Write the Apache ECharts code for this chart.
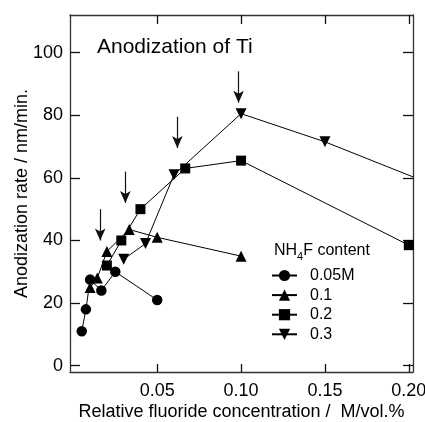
<!DOCTYPE html>
<html>
<head>
<meta charset="utf-8">
<script src="https://cdn.jsdelivr.net/npm/echarts@6/dist/echarts.min.js"></script>
<style>html,body{margin:0;padding:0;background:#fff;}#c{width:425px;height:422px;}</style>
</head>
<body>
<div id="c"></div>
<script>
// ---- data ----
var seriesNames = ['0.05M', '0.1', '0.2', '0.3'];
var x005 = [0.005, 0.0075, 0.01, 0.0167, 0.025, 0.05];
var y005 = [11, 18, 27.5, 24, 30, 21];
var x01 = [0.01, 0.0143, 0.02, 0.0333, 0.05, 0.1];
var y01 = [25, 28, 36.5, 43.5, 41, 35];
var x02 = [0.02, 0.0286, 0.04, 0.0667, 0.1, 0.2];
var y02 = [32, 40, 50, 63, 65.5, 38.5];
var x03 = [0.03, 0.043, 0.06, 0.1, 0.15, 0.3];
var y03 = [34, 39, 61, 80.5, 71.5, 39.5];
var xTicks = [0.05, 0.1, 0.15, 0.2];
var xTickLabels = ['0.05', '0.10', '0.15', '0.20'];
var yTicks = [0, 20, 40, 60, 80, 100];
var arrowX = [0.016, 0.031, 0.062, 0.0985];
var arrowTop = [50, 62, 79.5, 94];
var arrowBottom = [40, 52, 69.5, 84];

var FONT = '"Liberation Sans", Arial, Helvetica, sans-serif';
function pairs(xs, ys) { return xs.map(function (x, i) { return [x, ys[i]]; }); }

var axisLineStyle = { color: '#333', width: 1.3 };
var tickStyle = { color: '#111', width: 1.3 };

var chart = echarts.init(document.getElementById('c'), null, { renderer: 'canvas' });
var symbols = ['circle', 'triangle', 'rect', 'triangle'];
var rot = [0, 0, 0, 180];
var sizes = [10.5, 11, 10, 11];
var datasets = [pairs(x005, y005), pairs(x01, y01), pairs(x02, y02), pairs(x03, y03)];

var series = datasets.map(function (d, i) {
  return {
    name: seriesNames[i],
    type: 'line',
    data: d,
    symbol: symbols[i],
    symbolRotate: rot[i],
    symbolSize: sizes[i],
    showAllSymbol: true,
    clip: true,
    lineStyle: { color: '#000', width: 1 },
    itemStyle: { color: '#000' },
    z: 3
  };
});

series.push({
  name: 'arrows',
  type: 'line',
  data: [],
  markLine: {
    silent: true,
    symbol: ['none', 'arrow'],
    symbolSize: [8, 12],
    label: { show: false },
    lineStyle: { color: '#111', width: 1.2, type: 'solid' },
    data: arrowX.map(function (x, i) {
      return [{ coord: [x, arrowTop[i]] }, { coord: [x, arrowBottom[i]] }];
    })
  }
});

var option = {
  animation: false,
  backgroundColor: '#fff',
  textStyle: { fontFamily: FONT },
  grid: { left: 70, right: 12, top: 15, bottom: 50, containLabel: false, outerBoundsMode: 'none' },
  legend: {
    data: seriesNames,
    orient: 'vertical',
    left: 271,
    top: 267.5,
    itemWidth: 25,
    itemHeight: 14,
    itemGap: 3.6,
    padding: 0,
    textStyle: { fontFamily: FONT, fontSize: 16, color: '#000', padding: [0, 0, 0, 8] }
  },
  graphic: [
    {
      type: 'text', left: 97, top: 37,
      style: { text: 'Anodization of Ti', font: '21px ' + FONT, fill: '#000' }
    },
    {
      type: 'text', left: 274, top: 243,
      style: {
        text: '{a|NH}{s|4}{a|F content}',
        fill: '#000',
        rich: {
          a: { fontSize: 16, fontFamily: FONT, fill: '#000', verticalAlign: 'top' },
          s: { fontSize: 11, fontFamily: FONT, fill: '#000', padding: [8, 0, 0, 0], verticalAlign: 'top' }
        }
      }
    }
  ],
  xAxis: [
    {
      type: 'value', position: 'bottom', min: -0.002, max: 0.2025,
      name: 'Relative fluoride concentration /  M/vol.%',
      nameLocation: 'middle', nameGap: 31, nameMoveOverlap: false,
      nameTextStyle: { fontFamily: FONT, fontSize: 18, color: '#000' },
      axisLine: { show: true, onZero: false, lineStyle: axisLineStyle },
      axisTick: { show: true, inside: true, length: 8, lineStyle: tickStyle, customValues: xTicks },
      axisLabel: {
        show: true, margin: 10, fontFamily: FONT, fontSize: 18, color: '#000',
        customValues: xTicks,
        formatter: function (v) {
          for (var i = 0; i < xTicks.length; i++) if (Math.abs(v - xTicks[i]) < 1e-9) return xTickLabels[i];
          return '';
        }
      },
      splitLine: { show: false }
    },
    {
      type: 'value', position: 'top', min: -0.002, max: 0.2025,
      axisLine: { show: true, onZero: false, lineStyle: axisLineStyle },
      axisTick: { show: true, inside: true, length: 9, lineStyle: tickStyle, customValues: xTicks },
      axisLabel: { show: false, customValues: xTicks },
      splitLine: { show: false }
    }
  ],
  yAxis: [
    {
      type: 'value', position: 'left', min: -2, max: 112,
      name: 'Anodization rate / nm/min.',
      nameLocation: 'middle', nameGap: 39, nameMoveOverlap: false,
      nameTextStyle: { fontFamily: FONT, fontSize: 18, color: '#000' },
      axisLine: { show: true, onZero: false, lineStyle: axisLineStyle },
      axisTick: { show: true, inside: true, length: 10, lineStyle: tickStyle, customValues: yTicks },
      axisLabel: { show: true, margin: 7, fontFamily: FONT, fontSize: 18, color: '#000', customValues: yTicks },
      splitLine: { show: false }
    },
    {
      type: 'value', position: 'right', min: -2, max: 112,
      axisLine: { show: true, onZero: false, lineStyle: axisLineStyle },
      axisTick: { show: true, inside: true, length: 10, lineStyle: tickStyle, customValues: yTicks },
      axisLabel: { show: false, customValues: yTicks },
      splitLine: { show: false }
    }
  ],
  series: series
};
chart.setOption(option);
</script>
</body>
</html>
